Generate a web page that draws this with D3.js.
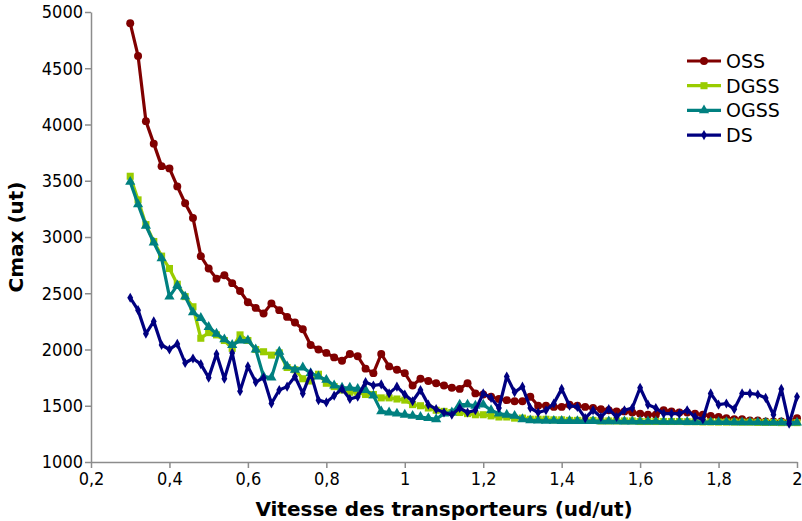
<!DOCTYPE html>
<html>
  <head>
    <meta charset="utf-8" />
    <script src="https://d3js.org/d3.v7.min.js"></script>
    <title>Cmax</title>
    <style>
      body { margin: 0; background: #fff; }
      .tick text { font-family: "DejaVu Sans Condensed", "DejaVu Sans", sans-serif; font-size: 18px; fill: #000; }
      .axis path, .axis line { stroke: #8c8c8c; stroke-width: 1.5px; }
      .title { font-family: "DejaVu Sans", sans-serif; font-weight: bold; font-size: 20px; }
      .legend text { font-family: "DejaVu Sans", sans-serif; font-size: 19px; }
    </style>
  </head>
  <body>
    <svg id="chart" width="802" height="521"></svg>
    <script>

var speeds = d3.range(86).map(function(i) { return +(0.3 + i * 0.02).toFixed(2); });

var oss = [4900,4610,4030,3830,3630,3610,3450,3300,3170,2830,2720,2630,2660,2590,2520,2420,2370,2320,2410,2350,
  2290,2240,2180,2040,2000,1970,1930,1900,1960,1940,1830,1790,1960,1850,1820,1790,1680,1740,1720,1700,
  1680,1660,1650,1700,1610,1600,1580,1560,1550,1540,1540,1580,1500,1500,1490,1490,1510,1500,1490,1480,
  1470,1460,1450,1450,1440,1430,1420,1420,1460,1450,1440,1440,1430,1420,1410,1400,1390,1380,1380,1370,
  1370,1360,1360,1360,1360,1390];

var dgss = [3540,3330,3110,2960,2830,2720,2580,2470,2380,2100,2150,2130,2080,2010,2130,2080,2000,1980,1950,1970,
  1840,1820,1740,1720,1780,1700,1670,1640,1620,1620,1600,1600,1570,1570,1560,1550,1510,1500,1480,1460,
  1450,1440,1440,1430,1420,1420,1410,1400,1400,1390,1390,1380,1380,1380,1375,1375,1370,1370,1370,1370,
  1365,1365,1365,1365,1365,1360,1360,1360,1360,1360,1360,1358,1358,1356,1356,1355,1355,1355,1354,1354,
  1352,1352,1352,1350,1350,1350];

var ogss = [3490,3290,3100,2950,2810,2470,2570,2470,2330,2280,2200,2140,2090,2040,2080,2080,2000,1760,1750,1980,
  1850,1820,1840,1790,1760,1730,1680,1660,1660,1650,1640,1590,1450,1440,1430,1420,1410,1400,1390,1380,
  1430,1440,1510,1510,1500,1510,1460,1430,1420,1410,1380,1370,1368,1366,1366,1365,1365,1364,1364,1363,
  1362,1362,1361,1360,1360,1360,1360,1359,1358,1358,1357,1356,1356,1355,1355,1354,1354,1353,1353,1352,
  1352,1351,1351,1350,1350,1350];

var ds = [2460,2350,2140,2250,2040,2000,2050,1880,1920,1870,1750,1960,1740,1970,1630,1850,1710,1750,1520,1640,
  1670,1760,1610,1790,1550,1530,1590,1650,1560,1580,1710,1680,1690,1610,1670,1600,1540,1640,1510,1470,
  1440,1420,1480,1440,1460,1610,1570,1480,1760,1620,1670,1480,1440,1460,1520,1650,1500,1490,1390,1460,
  1400,1470,1400,1460,1480,1660,1510,1480,1430,1430,1430,1460,1400,1380,1610,1510,1520,1470,1610,1610,
  1600,1570,1420,1650,1340,1580];

var series = [
  { name: "OSS", values: oss, color: "#800000", symbol: d3.symbolCircle, size: 50 },
  { name: "DGSS", values: dgss, color: "#99cc00", symbol: d3.symbolSquare, size: 50 },
  { name: "OGSS", values: ogss, color: "#008080", symbol: d3.symbolTriangle, size: 45 },
  { name: "DS", values: ds, color: "#000080", symbol: d3.symbolDiamond, size: 30 }
];

var xTicks = [0.2,0.4,0.6,0.8,1,1.2,1.4,1.6,1.8,2];
var yTicks = [1000,1500,2000,2500,3000,3500,4000,4500,5000];

var svg = d3.select("#chart");
var plotLeft = 91, plotRight = 797, plotTop = 12, plotBottom = 462;

var x = d3.scaleLinear().domain([0.2, 2]).range([plotLeft, plotRight]);
var y = d3.scaleLinear().domain([1000, 5000]).range([plotBottom, plotTop]);
var fmt = function(d) { return String(d).replace(".", ","); };

svg.append("g").attr("class", "axis")
  .attr("transform", "translate(0," + plotBottom + ")")
  .call(d3.axisBottom(x).tickValues(xTicks).tickFormat(fmt).tickSize(6).tickSizeOuter(0))
  .selectAll("text").attr("y", 9).attr("dy", "0.75em");

svg.append("g").attr("class", "axis")
  .attr("transform", "translate(" + plotLeft + ",0)")
  .call(d3.axisLeft(y).tickValues(yTicks).tickFormat(d3.format("d")).tickSize(6).tickSizeOuter(0))
  .selectAll("text").attr("x", -8);

var line = d3.line()
  .x(function(d, i) { return x(speeds[i]); })
  .y(function(d) { return y(d); });

series.forEach(function(s) {
  var g = svg.append("g");
  g.append("path")
    .attr("d", line(s.values))
    .attr("fill", "none")
    .attr("stroke", s.color)
    .attr("stroke-width", 3.2)
    .attr("stroke-linejoin", "round");
  g.selectAll("path.pt").data(s.values).enter().append("path")
    .attr("class", "pt")
    .attr("transform", function(d, i) { return "translate(" + x(speeds[i]) + "," + y(d) + ")"; })
    .attr("d", d3.symbol().type(s.symbol).size(s.size))
    .attr("fill", s.color);
});

var legend = svg.append("g").attr("class", "legend");
series.forEach(function(s, i) {
  var ly = 61 + i * 24.7;
  legend.append("line").attr("x1", 687).attr("x2", 721).attr("y1", ly).attr("y2", ly)
    .attr("stroke", s.color).attr("stroke-width", 3.2);
  legend.append("path").attr("transform", "translate(704," + ly + ")")
    .attr("d", d3.symbol().type(s.symbol).size(s.size)).attr("fill", s.color);
  legend.append("text").attr("x", 726).attr("y", ly).attr("dy", "0.36em").text(s.name);
});

svg.append("text").attr("class", "title")
  .attr("x", (plotLeft + plotRight) / 2).attr("y", 516).attr("text-anchor", "middle")
  .text("Vitesse des transporteurs (ud/ut)");

svg.append("text").attr("class", "title")
  .attr("transform", "translate(23," + (plotTop + plotBottom) / 2 + ") rotate(-90)")
  .attr("text-anchor", "middle")
  .text("Cmax (ut)");

    </script>
  </body>
</html>
